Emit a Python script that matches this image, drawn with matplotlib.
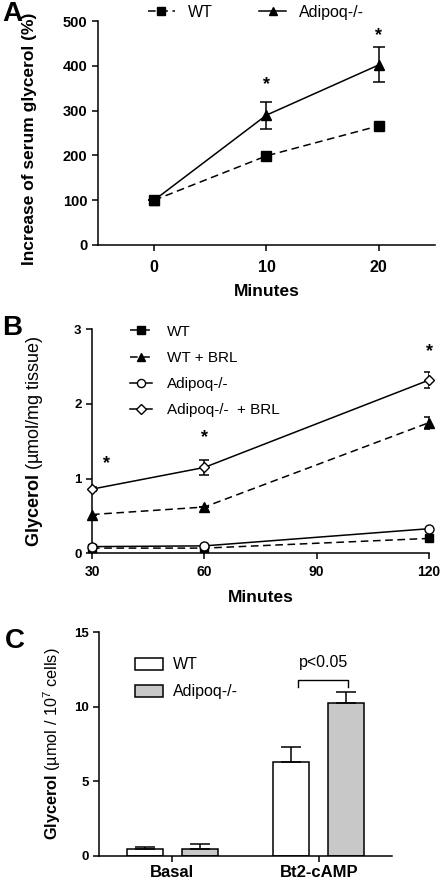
import numpy as np
import matplotlib
matplotlib.use("Agg")
import matplotlib.pyplot as plt

plt.rcParams['font.family'] = ['Liberation Sans', 'DejaVu Sans']
plt.rcParams['mathtext.fontset'] = 'custom'
plt.rcParams['mathtext.rm'] = 'Liberation Sans'
plt.rcParams['mathtext.bf'] = 'Liberation Sans:bold'
plt.rcParams['axes.linewidth'] = 1.1
plt.rcParams['xtick.major.width'] = 1.1
plt.rcParams['ytick.major.width'] = 1.1

# ---- panel A data ----
a_minutes = [0, 10, 20]
a_wt = [100, 199, 266]
a_ko = [100, 290, 402]
a_ko_err = [0, 30, 39]

# ---- panel B data ----
b_minutes = [30, 60, 120]
b_wt = [0.07, 0.07, 0.20]
b_wt_brl = [0.52, 0.62, 1.75]
b_wt_brl_err = [0.0, 0.0, 0.08]
b_ko = [0.09, 0.10, 0.33]
b_ko_brl = [0.86, 1.15, 2.32]
b_ko_brl_err = [0.03, 0.10, 0.11]

# ---- panel C data ----
c_groups = ['Basal', 'Bt2-cAMP']
c_wt = [0.45, 6.32]
c_wt_err = [0.17, 1.0]
c_ko = [0.47, 10.23]
c_ko_err = [0.31, 0.78]

fig = plt.figure(figsize=(4.4, 8.8), dpi=100)
dash = (0, (5, 3))

def style(ax):
    ax.spines['top'].set_visible(False)
    ax.spines['right'].set_visible(False)
    ax.tick_params(direction='out', length=4)

def bold_ticks(ax):
    for lab in ax.get_xticklabels() + ax.get_yticklabels():
        lab.set_fontweight('bold')

# ================= A =================
axA = fig.add_axes([0.2227, 0.7216, 0.7659, 0.2545])
style(axA)
hA1, = axA.plot(a_minutes, a_wt, ls=dash, color='k', lw=1.1, marker='s', ms=7.5,
                clip_on=False, zorder=3)
hA2, = axA.plot(a_minutes, a_ko, ls='-', color='k', lw=1.1, marker='^', ms=7.5,
                clip_on=False, zorder=3)
axA.errorbar(a_minutes, a_ko, yerr=a_ko_err, fmt='none', ecolor='k', elinewidth=1.1,
             capsize=4.5, capthick=1.1)
axA.set_xlim(-5, 25)
axA.set_ylim(0, 500)
axA.set_xticks([0, 10, 20])
axA.set_yticks([0, 100, 200, 300, 400, 500])
axA.tick_params(axis='x', labelsize=11.5, pad=7)
axA.tick_params(axis='y', labelsize=10.5)
bold_ticks(axA)
axA.set_xlabel('Minutes', fontsize=12.5, fontweight='bold')
axA.xaxis.set_label_coords(0.5, -0.175)
axA.set_ylabel('Increase of serum glycerol (%)', fontsize=12.5, fontweight='bold')
axA.yaxis.set_label_coords(-0.181, 0.476)
axA.text(10, 358, '*', ha='center', va='center', fontsize=13, fontweight='bold')
axA.text(20, 468, '*', ha='center', va='center', fontsize=13, fontweight='bold')
fig.legend([hA1, hA2], ['WT', 'Adipoq-/-'], loc='center left', bbox_to_anchor=(0.336, 0.986),
           ncol=2, frameon=False, fontsize=11.5, handlelength=1.7, markerscale=0.8,
           columnspacing=2.9, handletextpad=0.8, borderpad=0, borderaxespad=0)
fig.text(0.005, 0.984, 'A', fontsize=20, fontweight='bold', va='center')

# ================= B =================
axB = fig.add_axes([0.2091, 0.3712, 0.7659, 0.2546])
style(axB)
hB1, = axB.plot(b_minutes, b_wt, ls=dash, color='k', lw=1.1, marker='s', ms=6,
                clip_on=False, zorder=3)
hB2, = axB.plot(b_minutes, b_wt_brl, ls=dash, color='k', lw=1.1, marker='^', ms=6.5,
                clip_on=False, zorder=3)
axB.errorbar(b_minutes, b_wt_brl, yerr=b_wt_brl_err, fmt='none', ecolor='k',
             elinewidth=1.1, capsize=3.5, capthick=1.1)
hB3, = axB.plot(b_minutes, b_ko, ls='-', color='k', lw=1.1, marker='o', ms=6.5, mfc='white',
                clip_on=False, zorder=4)
hB4, = axB.plot(b_minutes, b_ko_brl, ls='-', color='k', lw=1.1, marker='D', ms=5.5,
                mfc='white', clip_on=False, zorder=4)
axB.errorbar(b_minutes, b_ko_brl, yerr=b_ko_brl_err, fmt='none', ecolor='k',
             elinewidth=1.1, capsize=3.5, capthick=1.1)
axB.set_xlim(30, 120)
axB.set_ylim(0, 3)
axB.set_xticks([30, 60, 90, 120])
axB.set_yticks([0, 1, 2, 3])
axB.tick_params(axis='x', labelsize=10, pad=4.5)
axB.tick_params(axis='y', labelsize=9.5)
bold_ticks(axB)
axB.set_xlabel('Minutes', fontsize=12.5, fontweight='bold')
axB.xaxis.set_label_coords(0.5, -0.165)
axB.set_ylabel(r'$\mathbf{Glycerol}$ (µmol/mg tissue)', fontsize=13)
axB.yaxis.set_label_coords(-0.139, 0.5)
for xs, ys in [(34, 1.2), (60, 1.55), (120, 2.7)]:
    axB.text(xs, ys, '*', ha='center', va='center', fontsize=13, fontweight='bold')
fig.legend([hB1, hB2, hB3, hB4], ['WT', 'WT + BRL', 'Adipoq-/-', 'Adipoq-/-  + BRL'],
           loc='upper left', bbox_to_anchor=(0.295, 0.631), frameon=False, fontsize=11,
           handlelength=1.45, markerscale=0.9, labelspacing=0.8, handletextpad=1.0,
           borderpad=0, borderaxespad=0)
fig.text(0.005, 0.627, 'B', fontsize=20, fontweight='bold', va='center')

# ================= C =================
axC = fig.add_axes([0.225, 0.0273, 0.666, 0.2542])
style(axC)
x = np.arange(len(c_groups))
w = 0.245
axC.bar(x - 0.188, c_wt, w, color='white', edgecolor='k', lw=1.1, label='WT',
        yerr=[np.zeros(2), c_wt_err], capsize=7, error_kw=dict(elinewidth=1.1, capthick=1.1))
axC.bar(x + 0.188, c_ko, w, color='#c8c8c8', edgecolor='k', lw=1.1, label='Adipoq-/-',
        yerr=[np.zeros(2), c_ko_err], capsize=7, error_kw=dict(elinewidth=1.1, capthick=1.1))
axC.set_xlim(-0.5, 1.5)
axC.set_ylim(0, 15)
axC.set_xticks(x)
axC.set_xticklabels(c_groups)
axC.set_yticks([0, 5, 10, 15])
axC.tick_params(axis='x', labelsize=12, pad=2.5)
axC.tick_params(axis='y', labelsize=9.5)
bold_ticks(axC)
axC.set_ylabel(r'$\mathbf{Glycerol}$ (µmol / 10$^{7}$ cells)', fontsize=11.7)
axC.yaxis.set_label_coords(-0.123, 0.5)
# significance bracket
axC.plot([0.858, 0.858, 1.2, 1.2], [11.35, 11.83, 11.83, 11.35], color='k', lw=1.0)
axC.text(1.03, 12.95, 'p<0.05', ha='center', va='center', fontsize=11.5)
fig.legend(*axC.get_legend_handles_labels(), loc='upper left', bbox_to_anchor=(0.307, 0.253),
           frameon=False, fontsize=11.5, handlelength=1.75, handleheight=0.75,
           labelspacing=0.75, handletextpad=0.6, borderpad=0, borderaxespad=0)
fig.text(0.01, 0.272, 'C', fontsize=20, fontweight='bold', va='center')

fig.savefig('out.png', dpi=100)
